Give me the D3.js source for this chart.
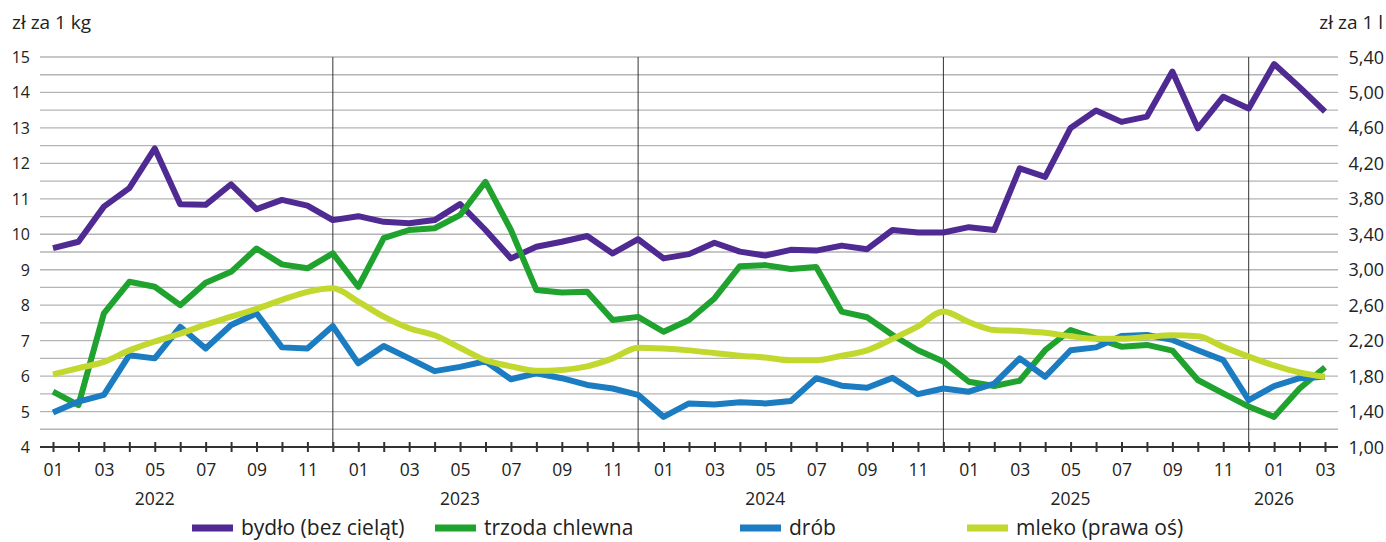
<!DOCTYPE html>
<html>
<head>
<meta charset="utf-8">
<script src="https://cdn.jsdelivr.net/npm/d3@7/dist/d3.min.js"></script>
<style>
  body { margin: 0; background: #fff; }
  text { font-family: "Open Sans", "Noto Sans", sans-serif; fill: #222; }
</style>
</head>
<body>
<script>
// months 2022-01 .. 2026-03
var months = ['2022-01','2022-02','2022-03','2022-04','2022-05','2022-06','2022-07','2022-08','2022-09','2022-10','2022-11','2022-12',
              '2023-01','2023-02','2023-03','2023-04','2023-05','2023-06','2023-07','2023-08','2023-09','2023-10','2023-11','2023-12',
              '2024-01','2024-02','2024-03','2024-04','2024-05','2024-06','2024-07','2024-08','2024-09','2024-10','2024-11','2024-12',
              '2025-01','2025-02','2025-03','2025-04','2025-05','2025-06','2025-07','2025-08','2025-09','2025-10','2025-11','2025-12',
              '2026-01','2026-02','2026-03'];

var bydlo = [9.61, 9.79, 10.78, 11.30, 12.42, 10.85, 10.83, 11.41, 10.71, 10.97, 10.81, 10.40,
             10.51, 10.35, 10.31, 10.40, 10.85, 10.12, 9.32, 9.65, 9.79, 9.95, 9.46, 9.86,
             9.32, 9.44, 9.76, 9.51, 9.40, 9.56, 9.54, 9.68, 9.58, 10.12, 10.05, 10.05,
             10.20, 10.12, 11.86, 11.62, 13.00, 13.49, 13.17, 13.32, 14.59, 12.99, 13.88, 13.55,
             14.80, 14.15, 13.46];

var trzoda = [5.56, 5.18, 7.77, 8.66, 8.52, 8.00, 8.63, 8.94, 9.60, 9.15, 9.04, 9.46,
              8.52, 9.89, 10.12, 10.17, 10.54, 11.48, 10.12, 8.43, 8.36, 8.38, 7.58, 7.67,
              7.25, 7.58, 8.19, 9.10, 9.13, 9.02, 9.08, 7.82, 7.66, 7.16, 6.73, 6.41,
              5.84, 5.72, 5.87, 6.73, 7.30, 7.06, 6.83, 6.88, 6.72, 5.89, 5.51, 5.14,
              4.85, 5.65, 6.25];

var drob = [4.97, 5.28, 5.47, 6.59, 6.50, 7.39, 6.78, 7.44, 7.77, 6.81, 6.78, 7.41,
            6.36, 6.85, 6.50, 6.14, 6.26, 6.42, 5.91, 6.08, 5.94, 5.75, 5.65, 5.47,
            4.85, 5.23, 5.20, 5.26, 5.23, 5.30, 5.94, 5.73, 5.67, 5.95, 5.49, 5.65,
            5.56, 5.79, 6.50, 5.98, 6.73, 6.81, 7.13, 7.16, 7.02, 6.73, 6.45, 5.32,
            5.72, 5.94, 5.98];

// mleko on the right axis (zł za 1 l)
var mleko = [1.82, 1.89, 1.96, 2.09, 2.19, 2.28, 2.38, 2.47, 2.56, 2.66, 2.75, 2.79,
             2.64, 2.47, 2.34, 2.26, 2.12, 1.98, 1.91, 1.86, 1.87, 1.91, 2.00, 2.12,
             2.11, 2.09, 2.06, 2.03, 2.01, 1.98, 1.98, 2.03, 2.09, 2.22, 2.36, 2.53,
             2.41, 2.32, 2.31, 2.29, 2.25, 2.22, 2.22, 2.24, 2.26, 2.25, 2.13, 2.02,
             1.92, 1.84, 1.79];

var leftTicks = [4, 5, 6, 7, 8, 9, 10, 11, 12, 13, 14, 15];
var rightTicks = [1.00, 1.40, 1.80, 2.20, 2.60, 3.00, 3.40, 3.80, 4.20, 4.60, 5.00, 5.40];
var years = ['2022', '2023', '2024', '2025', '2026'];
var yearLabelAt = ['2022-05', '2023-05', '2024-05', '2025-05', '2026-01'];
var seriesNames = ['bydło (bez cieląt)', 'trzoda chlewna', 'drób', 'mleko (prawa oś)'];
var colors = ['#4f2a92', '#1fa22e', '#1b7cc2', '#c2d82e'];

var W = 1386, H = 542;
var plotL = 40, plotR = 1338, plotT = 57, plotB = 447;

var svg = d3.select('body').append('svg')
  .attr('width', W)
  .attr('height', H);

var x = d3.scalePoint()
  .domain(months)
  .range([53, 1325]);

var yL = d3.scaleLinear().domain([4, 15]).range([plotB, plotT]);
var yR = d3.scaleLinear().domain([1, 5.4]).range([plotB, plotT]);

// horizontal grid every 0.5
var grid = d3.range(4.5, 15.01, 0.5);
svg.append('g').selectAll('line')
  .data(grid)
  .enter().append('line')
  .attr('x1', plotL).attr('x2', plotR)
  .attr('y1', function(d) { return yL(d); })
  .attr('y2', function(d) { return yL(d); })
  .attr('stroke', '#b4b4b4')
  .attr('stroke-width', 1.3);

// year separators at december
svg.append('g').selectAll('line')
  .data(months.filter(function(m) { return m.slice(5) === '12'; }))
  .enter().append('line')
  .attr('x1', function(d) { return x(d); })
  .attr('x2', function(d) { return x(d); })
  .attr('y1', plotT).attr('y2', plotB)
  .attr('stroke', '#333')
  .attr('stroke-width', 1);

// bottom axis
var xAxis = d3.axisBottom(x)
  .tickSize(10)
  .tickFormat(function(d) { var mm = d.slice(5); return (+mm % 2 === 1) ? mm : ''; });

var gx = svg.append('g')
  .attr('transform', 'translate(0,' + (plotB - 5) + ')')
  .call(xAxis);
gx.select('.domain').remove();
gx.selectAll('.tick line').attr('stroke', '#333').attr('stroke-width', 2);
gx.selectAll('.tick text')
  .attr('y', 22)
  .style('font-size', '17.5px')
  .attr('fill', '#222');

svg.append('line')
  .attr('x1', plotL).attr('x2', plotR)
  .attr('y1', plotB).attr('y2', plotB)
  .attr('stroke', '#333')
  .attr('stroke-width', 2.2);

// year labels
svg.append('g').selectAll('text')
  .data(years)
  .enter().append('text')
  .attr('x', function(d, i) { return x(yearLabelAt[i]); })
  .attr('y', 505)
  .attr('text-anchor', 'middle')
  .style('font-size', '17.5px')
  .text(function(d) { return d; });

// left axis labels
svg.append('g').selectAll('text')
  .data(leftTicks)
  .enter().append('text')
  .attr('x', 30)
  .attr('y', function(d) { return yL(d) + 6; })
  .attr('text-anchor', 'end')
  .style('font-size', '16px')
  .text(function(d) { return d; });

// right axis labels
svg.append('g').selectAll('text')
  .data(rightTicks)
  .enter().append('text')
  .attr('x', 1384)
  .attr('y', function(d) { return yR(d) + 6.5; })
  .attr('text-anchor', 'end')
  .style('font-size', '18px')
  .text(function(d) { return d.toFixed(2).replace('.', ','); });

svg.append('text')
  .attr('x', 12).attr('y', 29)
  .style('font-size', '19px')
  .text('zł za 1 kg');

svg.append('text')
  .attr('x', 1383).attr('y', 29)
  .attr('text-anchor', 'end')
  .style('font-size', '19px')
  .text('zł za 1 l');

// lines
var lineL = d3.line()
  .x(function(d, i) { return x(months[i]); })
  .y(function(d) { return yL(d); });

var lineR = d3.line()
  .x(function(d, i) { return x(months[i]); })
  .y(function(d) { return yR(d); })
  .curve(d3.curveMonotoneX);

[bydlo, trzoda, drob].forEach(function(s, i) {
  svg.append('path')
    .datum(s)
    .attr('d', lineL)
    .attr('fill', 'none')
    .attr('stroke', colors[i])
    .attr('stroke-width', 6)
    .attr('stroke-linejoin', 'round');
});

svg.append('path')
  .datum(mleko)
  .attr('d', lineR)
  .attr('fill', 'none')
  .attr('stroke', colors[3])
  .attr('stroke-width', 6)
  .attr('stroke-linejoin', 'round');

// legend
var legendX = [192, 435, 740, 967];
var leg = svg.append('g').selectAll('g')
  .data(seriesNames)
  .enter().append('g')
  .attr('transform', function(d, i) { return 'translate(' + legendX[i] + ',528)'; });

leg.append('line')
  .attr('x1', 0).attr('x2', 41)
  .attr('y1', 0).attr('y2', 0)
  .attr('stroke', function(d, i) { return colors[i]; })
  .attr('stroke-width', 7);

leg.append('text')
  .attr('x', 49)
  .attr('y', 7)
  .style('font-size', '21px')
  .text(function(d) { return d; });
</script>
</body>
</html>
